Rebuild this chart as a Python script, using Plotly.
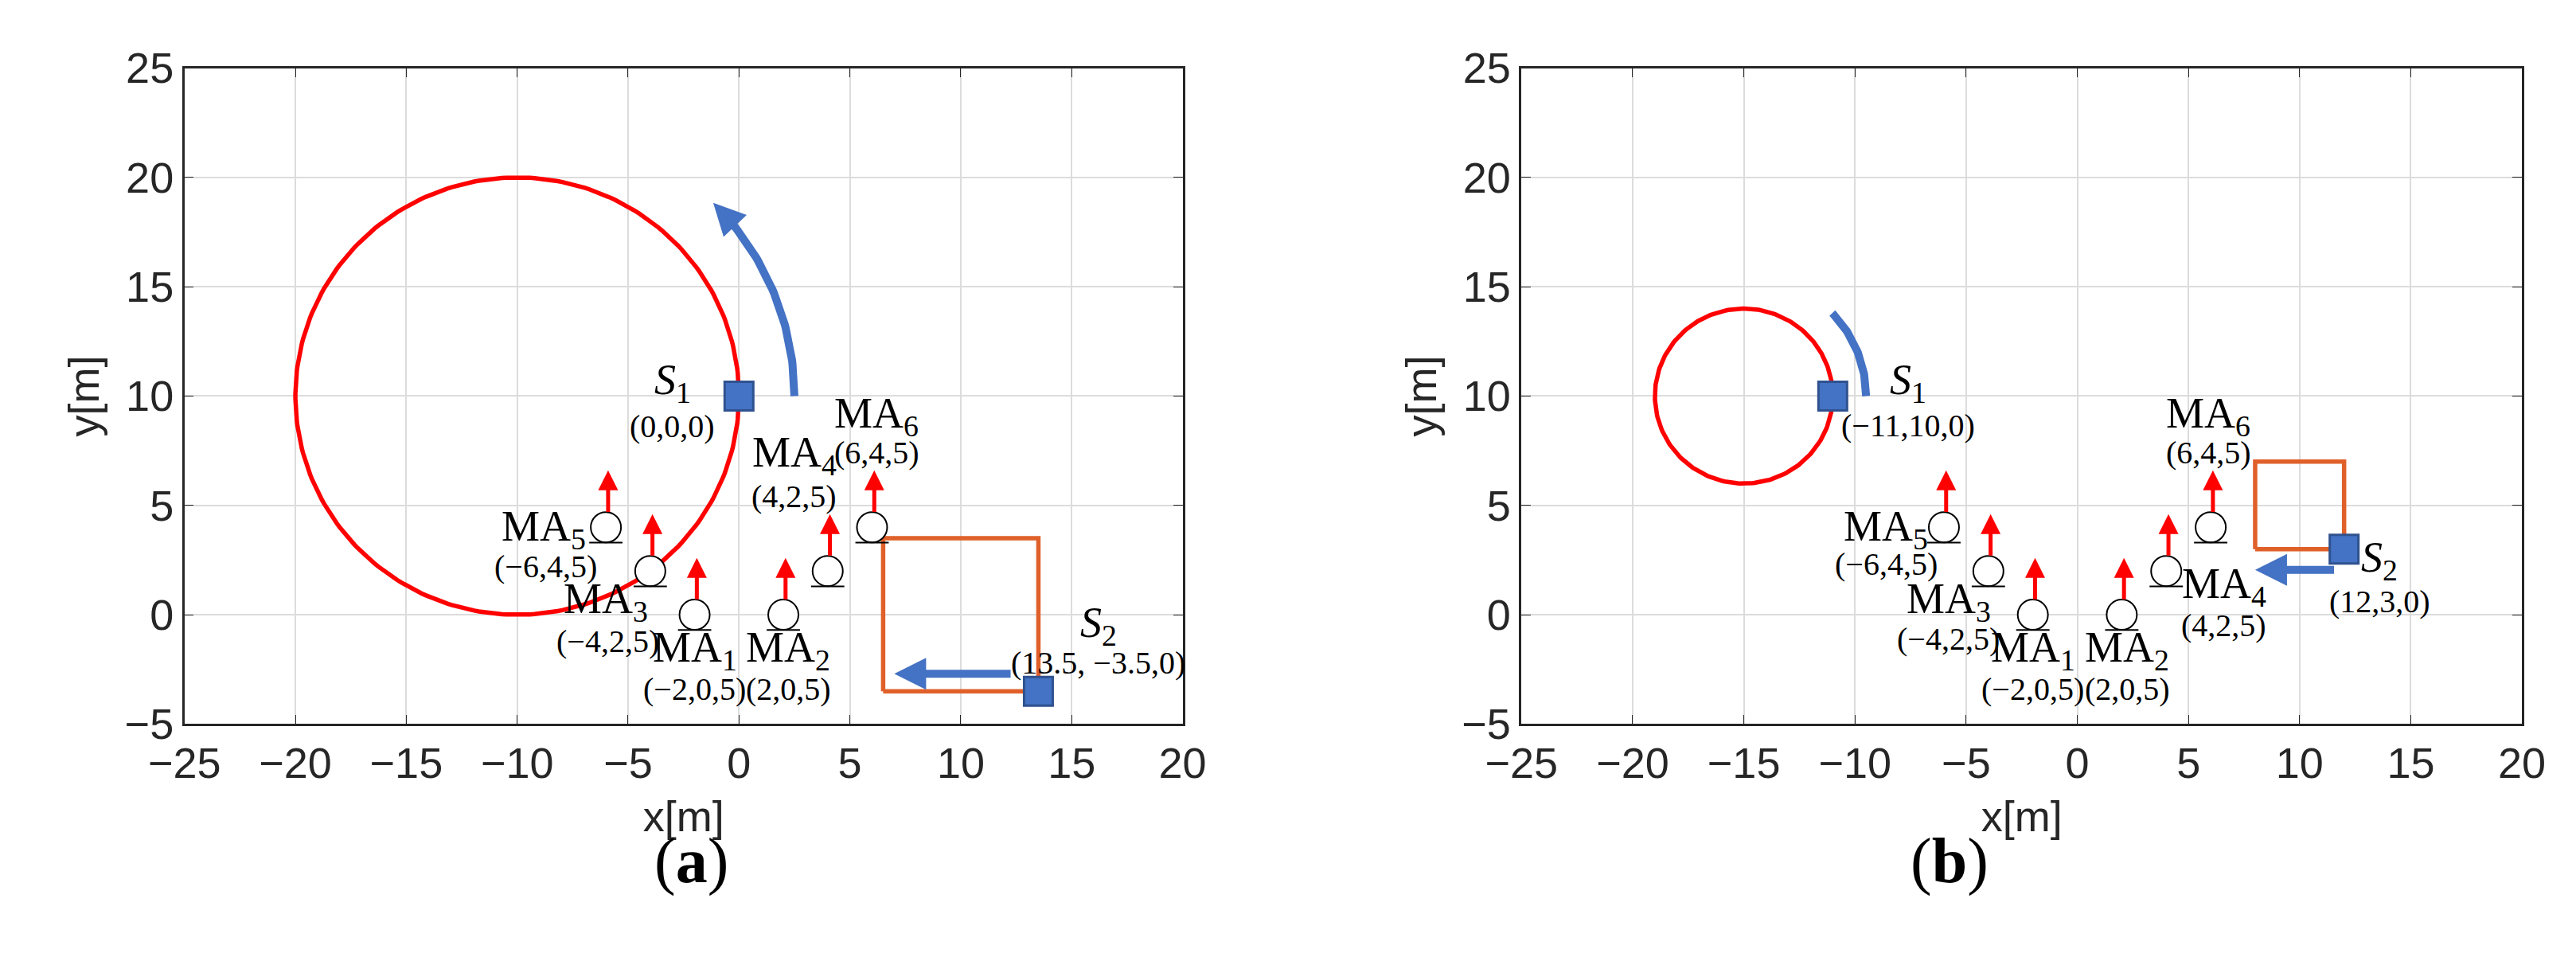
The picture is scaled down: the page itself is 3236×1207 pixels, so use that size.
import numpy as np
import plotly.graph_objects as go

BLUE = "#4472C4"
BLUE_EDGE = "#2F528F"
ORANGE = "#E0602A"
SERIF = "Liberation Serif"
SANS = "Liberation Sans"

# mobile agents (same in both panels)
ma_x = [-2, 2, -4, 4, -6, 6]
ma_y = [0, 0, 2, 2, 4, 4]

# panel (a)
a_circle = (-10, 10, 10)          # cx, cy, r
a_s1 = (0, 10)
a_s2 = (13.5, -3.5)
a_square_x = [6.5, 13.5, 13.5, 6.5, 6.5]
a_square_y = [-3.5, -3.5, 3.5, 3.5, -3.5]
a_arc = (-10, 10, 12.5, 0, 45)    # cx, cy, r, start deg, end deg
a_s2_arrow = (12.3, 7.0, -2.7)    # x from, x to, y
a_labels = [
    ("<i>S</i><sub>1</sub>", -3.0, 10.6, 54), ("(0,0,0)", -3.0, 8.6, 40),
    ("MA<sub>6</sub>", 6.2, 9.1, 54), ("(6,4,5)", 6.2, 7.4, 40),
    ("MA<sub>4</sub>", 2.5, 7.3, 54), ("(4,2,5)", 2.5, 5.4, 40),
    ("MA<sub>5</sub>", -8.8, 3.9, 54), ("(−6,4,5)", -8.7, 2.2, 40),
    ("MA<sub>3</sub>", -6.0, 0.6, 54), ("(−4,2,5)", -5.9, -1.2, 40),
    ("MA<sub>1</sub>", -2.0, -1.6, 54), ("(−2,0,5)", -2.0, -3.4, 40),
    ("MA<sub>2</sub>", 2.2, -1.6, 54), ("(2,0,5)", 2.25, -3.4, 40),
    ("<i>S</i><sub>2</sub>", 16.2, -0.5, 54), ("(13.5, −3.5,0)", 16.2, -2.2, 40),
]

# panel (b)
b_circle = (-15, 10, 4)
b_s1 = (-11, 10)
b_s2 = (12, 3)
b_square_x = [8, 12, 12, 8, 8]
b_square_y = [3, 3, 7, 7, 3]
b_arc = (-15, 10, 5.5, 0, 46)
b_s2_arrow = (11.6, 8.0, 2.05)
b_labels = [
    ("<i>S</i><sub>1</sub>", -7.6, 10.6, 54), ("(−11,10,0)", -7.6, 8.65, 40),
    ("MA<sub>6</sub>", 5.9, 9.1, 54), ("(6,4,5)", 5.9, 7.4, 40),
    ("MA<sub>5</sub>", -8.6, 3.9, 54), ("(−6,4,5)", -8.6, 2.3, 40),
    ("MA<sub>3</sub>", -5.8, 0.6, 54), ("(−4,2,5)", -5.8, -1.1, 40),
    ("MA<sub>1</sub>", -2.0, -1.6, 54), ("(−2,0,5)", -2.0, -3.4, 40),
    ("MA<sub>2</sub>", 2.25, -1.6, 54), ("(2,0,5)", 2.25, -3.4, 40),
    ("MA<sub>4</sub>", 6.6, 1.3, 54), ("(4,2,5)", 6.6, -0.5, 40),
    ("<i>S</i><sub>2</sub>", 13.6, 2.5, 54), ("(12,3,0)", 13.6, 0.6, 40),
]

ticks_x = [-25, -20, -15, -10, -5, 0, 5, 10, 15, 20]
ticks_y = [-5, 0, 5, 10, 15, 20, 25]

fig = go.Figure()
annotations = []


def panel(xa, ya, circle, s1, s2, sq_x, sq_y, arc, s2_arrow, labels):
    xr, yr = xa.replace("axis", ""), ya.replace("axis", "")
    cx, cy, r = circle
    t = np.linspace(0, 2 * np.pi, 300)
    fig.add_trace(go.Scatter(x=cx + r * np.cos(t), y=cy + r * np.sin(t), mode="lines",
                             line=dict(color="red", width=5.5), xaxis=xr, yaxis=yr))
    fig.add_trace(go.Scatter(x=sq_x, y=sq_y, mode="lines",
                             line=dict(color=ORANGE, width=5.5), xaxis=xr, yaxis=yr))
    # mobile agents: circle with underline and a red arrow above
    fig.add_trace(go.Scatter(x=ma_x, y=ma_y, mode="markers",
                             marker=dict(symbol="circle", size=38, color="white",
                                         line=dict(color="black", width=2)),
                             xaxis=xr, yaxis=yr))
    ux, uy = [], []
    for mx, my in zip(ma_x, ma_y):
        ux += [mx - 0.75, mx + 0.75, None]
        uy += [my - 0.7, my - 0.7, None]
        annotations.append(dict(x=mx + 0.1, y=my + 2.6, ax=mx + 0.1, ay=my + 0.65,
                                xref=xr, yref=yr, axref=xr, ayref=yr, text="",
                                showarrow=True, arrowhead=2, arrowsize=1.0,
                                arrowwidth=5, arrowcolor="red"))
    fig.add_trace(go.Scatter(x=ux, y=uy, mode="lines", line=dict(color="black", width=2),
                             xaxis=xr, yaxis=yr))
    # arc arrow of S1
    acx, acy, ar, a0, a1 = arc
    th = np.radians(np.linspace(a0, a1, 60))
    axs, ays = acx + ar * np.cos(th), acy + ar * np.sin(th)
    fig.add_trace(go.Scatter(x=axs[:-3], y=ays[:-3], mode="lines",
                             line=dict(color=BLUE, width=10), xaxis=xr, yaxis=yr))
    annotations.append(dict(x=axs[-1], y=ays[-1], ax=axs[-6], ay=ays[-6],
                            xref=xr, yref=yr, axref=xr, ayref=yr, text="",
                            showarrow=True, arrowhead=2, arrowsize=0.8,
                            arrowwidth=10, arrowcolor=BLUE))
    x0, x1, yy = s2_arrow
    annotations.append(dict(x=x1, y=yy, ax=x0, ay=yy, xref=xr, yref=yr, axref=xr, ayref=yr,
                            text="", showarrow=True, arrowhead=2, arrowsize=0.8,
                            arrowwidth=10, arrowcolor=BLUE))
    fig.add_trace(go.Scatter(x=[s1[0], s2[0]], y=[s1[1], s2[1]], mode="markers",
                             marker=dict(symbol="square", size=36, color=BLUE,
                                         line=dict(color=BLUE_EDGE, width=3)),
                             xaxis=xr, yaxis=yr))
    for txt, tx, ty, fs in labels:
        annotations.append(dict(x=tx, y=ty, xref=xr, yref=yr, text=txt, showarrow=False,
                                font=dict(family=SERIF, size=fs, color="black")))


panel("xaxis", "yaxis", a_circle, a_s1, a_s2, a_square_x, a_square_y, a_arc, a_s2_arrow, a_labels)
panel("xaxis2", "yaxis2", b_circle, b_s1, b_s2, b_square_x, b_square_y, b_arc, b_s2_arrow, b_labels)

axis_common = dict(showgrid=True, gridcolor="#DCDCDC", gridwidth=2, zeroline=False,
                   showline=True, linecolor="#262626", linewidth=2.5, mirror="ticks",
                   ticks="inside", ticklen=12, tickcolor="#262626",
                   tickfont=dict(family=SANS, size=54, color="#262626"))
xcommon = dict(axis_common, range=[-25, 20], tickvals=ticks_x,
               ticktext=[str(v).replace("-", "−") for v in ticks_x],
               title=dict(text="x[m]", font=dict(family=SANS, size=54, color="#262626"), standoff=20))
ycommon = dict(axis_common, range=[-5, 25], tickvals=ticks_y,
               ticktext=[str(v).replace("-", "−") for v in ticks_y],
               title=dict(text="y[m]", font=dict(family=SANS, size=54, color="#262626"), standoff=15))

annotations.append(dict(x=784 / 3236, y=1 - 1147 / 1207, xref="paper", yref="paper",
                        text="(<b>a</b>)", showarrow=False,
                        font=dict(family=SERIF, size=80, color="black")))
annotations.append(dict(x=2505 / 3236, y=1 - 1147 / 1207, xref="paper", yref="paper",
                        text="(<b>b</b>)", showarrow=False,
                        font=dict(family=SERIF, size=80, color="black")))

fig.update_layout(
    width=3236, height=1207, autosize=False,
    margin=dict(l=0, r=0, t=0, b=0),
    paper_bgcolor="white", plot_bgcolor="white",
    showlegend=False,
    xaxis=dict(xcommon, domain=[182 / 3236, 1466 / 3236], anchor="y"),
    yaxis=dict(ycommon, domain=[1 - 917 / 1207, 1 - 50 / 1207], anchor="x"),
    xaxis2=dict(xcommon, domain=[1902 / 3236, 3189 / 3236], anchor="y2"),
    yaxis2=dict(ycommon, domain=[1 - 917 / 1207, 1 - 50 / 1207], anchor="x2"),
    annotations=annotations,
)

fig.write_html("out.html")
